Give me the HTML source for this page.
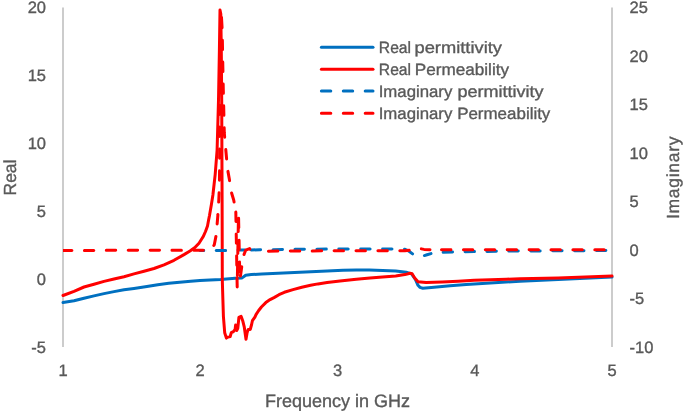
<!DOCTYPE html>
<html><head><meta charset="utf-8"><style>
html,body{margin:0;padding:0;background:#fff;}
body{width:685px;height:413px;overflow:hidden;}
svg{display:block;}
text{text-rendering:geometricPrecision;font-family:"Liberation Sans",sans-serif;fill:#595959;stroke:#595959;stroke-width:0.35px;}
svg{will-change:transform;}
</style></head><body>
<svg width="685" height="413" viewBox="0 0 685 413">
<rect width="685" height="413" fill="#fff"/>

<line x1="63" y1="7.5" x2="63" y2="347" stroke="#cccccc" stroke-width="2"/>
<line x1="612" y1="7.5" x2="612" y2="347" stroke="#cccccc" stroke-width="2"/>
<g font-size="16.5" text-anchor="end">
<text x="46" y="13.3">20</text>
<text x="46" y="81.2">15</text>
<text x="46" y="149.0">10</text>
<text x="46" y="216.9">5</text>
<text x="46" y="284.7">0</text>
<text x="46" y="352.6">-5</text>
</g>
<g font-size="16.5" text-anchor="start">
<text x="629.5" y="13.4">25</text>
<text x="629.5" y="61.9">20</text>
<text x="629.5" y="110.3">15</text>
<text x="629.5" y="158.8">10</text>
<text x="629.5" y="207.2">5</text>
<text x="629.5" y="255.7">0</text>
<text x="629.5" y="304.1">-5</text>
<text x="629.5" y="352.6">-10</text>
</g>
<g font-size="16.5" text-anchor="middle">
<text x="63.0" y="375.7">1</text>
<text x="200.2" y="375.7">2</text>
<text x="337.5" y="375.7">3</text>
<text x="474.8" y="375.7">4</text>
<text x="612.0" y="375.7">5</text>
</g>
<text font-size="17.5" text-anchor="middle" transform="translate(15.6,177.5) rotate(-90)">Real</text>
<text font-size="17.5" text-anchor="middle" textLength="82.5" lengthAdjust="spacing" transform="translate(679.2,177.8) rotate(-90)">Imaginary</text>
<text font-size="18" text-anchor="middle" x="337.5" y="407.3">Frequency in GHz</text>
<polyline fill="none" stroke="#0070C0" stroke-width="3" stroke-linejoin="round" stroke-linecap="round" points="63.0,302.6 74.0,300.8 84.0,298.2 94.0,295.9 104.0,293.6 114.0,291.6 124.0,289.8 134.0,288.4 146.9,286.4 157.8,284.7 168.8,283.3 179.7,282.2 190.7,281.2 200.0,280.5 210.0,279.9 220.7,279.4 235.0,278.2 242.1,277.9 245.7,275.2 251.3,274.6 261.8,274.0 283.6,273.0 305.4,271.9 327.1,270.9 343.1,270.3 356.3,269.9 369.4,270.0 382.6,270.4 395.7,271.1 406.2,272.3 411.5,273.9 415.4,279.5 418.0,285.3 420.0,287.4 422.8,288.2 434.1,287.3 450.1,285.8 466.2,284.5 482.3,283.4 498.3,282.5 520.0,281.3 558.2,279.5 612.0,277.1"/>
<polyline fill="none" stroke="#FF0000" stroke-width="3" stroke-linejoin="round" stroke-linecap="round" points="63.0,295.5 74.0,291.3 84.0,287.0 94.0,284.2 104.0,281.4 114.0,279.0 124.0,276.7 134.0,273.9 144.0,271.3 154.0,268.5 164.0,264.8 174.0,260.3 184.0,254.6 190.0,251.0 194.9,247.6 199.0,243.2 203.1,236.8 205.5,231.5 207.5,225.9 208.5,220.5 209.5,215.5 211.4,204.4 212.9,195.0 215.2,174.3 217.1,150.0 218.5,100.0 219.4,50.0 220.0,10.0 220.8,14.0 221.3,50.0 221.7,100.0 222.1,200.0 222.3,280.0 222.9,300.0 223.4,316.3 224.7,332.7 226.4,338.1 228.0,337.1 230.2,336.5 231.3,332.7 233.4,331.6 235.1,329.4 235.6,325.1 236.7,330.5 237.8,328.3 238.9,317.4 241.1,316.3 242.7,320.7 244.3,327.2 246.0,339.2 247.1,332.7 248.2,329.4 250.3,329.4 251.6,324.5 252.4,320.7 254.9,317.1 256.0,314.6 258.5,310.7 261.4,307.0 265.8,302.6 270.1,299.6 274.0,297.6 279.0,294.7 284.3,292.3 293.0,289.6 301.8,287.2 310.6,285.3 318.0,283.9 327.1,282.6 340.0,281.0 356.3,279.3 370.0,278.1 382.6,277.0 395.7,275.9 404.9,274.6 410.1,273.2 412.1,273.7 414.7,278.0 418.0,281.7 426.1,282.5 442.1,282.0 458.2,281.2 474.2,280.3 490.3,279.7 506.4,279.2 520.0,278.8 558.2,277.9 612.0,276.1"/>
<clipPath id="pc"><rect x="63" y="0" width="549" height="413"/></clipPath>
<g clip-path="url(#pc)">
<polyline fill="none" stroke="#0070C0" stroke-width="3" stroke-linejoin="round" stroke-linecap="round" stroke-dasharray="9.4 12.5" stroke-dashoffset="-16.20" points="200.0,250.6 225.0,250.5 240.0,250.0 245.0,250.0"/>
<polyline fill="none" stroke="#0070C0" stroke-width="3" stroke-linejoin="round" stroke-linecap="round" stroke-dasharray="9.4 12.5" stroke-dashoffset="-6.20" points="245.0,250.0 260.0,249.8 300.0,249.3 330.0,249.1 400.0,249.0 405.0,249.3 409.0,251.2 413.0,254.2 416.0,255.8 419.0,256.4 423.0,256.0 427.0,254.8 431.0,253.6"/>
<polyline fill="none" stroke="#0070C0" stroke-width="3" stroke-linejoin="round" stroke-linecap="round" stroke-dasharray="9.4 12.5" stroke-dashoffset="-12.25" points="431.0,253.6 441.0,252.4 453.0,252.0 475.0,251.6 497.0,251.2 540.0,250.9 612.0,250.5"/>
<polyline fill="none" stroke="#FF0000" stroke-width="3" stroke-linejoin="round" stroke-linecap="round" stroke-dasharray="9.4 12.5" stroke-dashoffset="-21.40" points="63.0,250.4 207.0,250.3 210.0,249.6 212.3,248.0 214.3,244.7 216.2,235.0 217.9,215.0 218.8,200.0 219.4,186.0 219.6,165.0 219.7,120.0 220.3,60.0 220.9,22.0 221.5,17.5"/>
<polyline fill="none" stroke="#FF0000" stroke-width="3" stroke-linejoin="round" stroke-linecap="round" stroke-dasharray="9.4 12.5" stroke-dashoffset="-0.80" points="221.5,17.5 222.2,30.0 222.8,65.0 223.3,90.0 224.3,133.0 226.0,152.0 227.4,168.3 229.4,179.5 231.0,191.0 233.7,200.0 235.8,211.0"/>
<polyline fill="none" stroke="#FF0000" stroke-width="3" stroke-linejoin="round" stroke-linecap="round" stroke-dasharray="9.4 12.5" stroke-dashoffset="-1.00" points="235.8,211.0 237.2,287.5 238.5,214.0 239.9,280.0 241.3,270.0 242.7,259.5 244.2,254.0 245.7,250.2 249.6,248.6 251.3,252.4 253.0,250.8 254.6,252.2 256.4,251.4"/>
<polyline fill="none" stroke="#FF0000" stroke-width="3" stroke-linejoin="round" stroke-linecap="round" stroke-dasharray="9.4 12.5" stroke-dashoffset="-12.00" points="256.4,251.4 262.0,251.2 300.0,250.9 360.0,250.8 405.0,250.7 410.0,250.3 414.0,248.8 419.0,248.4 424.0,249.4 430.0,249.7"/>
<polyline fill="none" stroke="#FF0000" stroke-width="3" stroke-linejoin="round" stroke-linecap="round" stroke-dasharray="9.4 12.5" stroke-dashoffset="-11.50" points="430.0,249.7 612.0,249.8"/>
</g>
<line x1="321.4" y1="47.3" x2="373.0" y2="47.3" stroke="#0070C0" stroke-width="3" stroke-linecap="round"/>
<text font-size="16.3" x="378.85" y="52.5" textLength="32.24" lengthAdjust="spacingAndGlyphs">Real</text>
<text font-size="16.3" x="414.49" y="52.5" textLength="87.47" lengthAdjust="spacingAndGlyphs">permittivity</text>
<line x1="321.4" y1="69.2" x2="373.0" y2="69.2" stroke="#FF0000" stroke-width="3" stroke-linecap="round"/>
<text font-size="16.3" x="378.85" y="74.6" textLength="32.24" lengthAdjust="spacingAndGlyphs">Real</text>
<text font-size="16.3" x="414.74" y="74.6" textLength="94.33" lengthAdjust="spacingAndGlyphs">Permeability</text>
<line x1="321.4" y1="91.1" x2="373.0" y2="91.1" stroke="#0070C0" stroke-width="3" stroke-linecap="round" stroke-dasharray="9.4 12.5"/>
<text font-size="16.3" x="378.66" y="96.7" textLength="73.70" lengthAdjust="spacingAndGlyphs">Imaginary</text>
<text font-size="16.3" x="457.40" y="96.7" textLength="86.26" lengthAdjust="spacingAndGlyphs">permittivity</text>
<line x1="321.4" y1="113.2" x2="373.0" y2="113.2" stroke="#FF0000" stroke-width="3" stroke-linecap="round" stroke-dasharray="9.4 12.5"/>
<text font-size="16.3" x="378.66" y="118.8" textLength="73.70" lengthAdjust="spacingAndGlyphs">Imaginary</text>
<text font-size="16.3" x="457.15" y="118.8" textLength="93.22" lengthAdjust="spacingAndGlyphs">Permeability</text>
</svg></body></html>
